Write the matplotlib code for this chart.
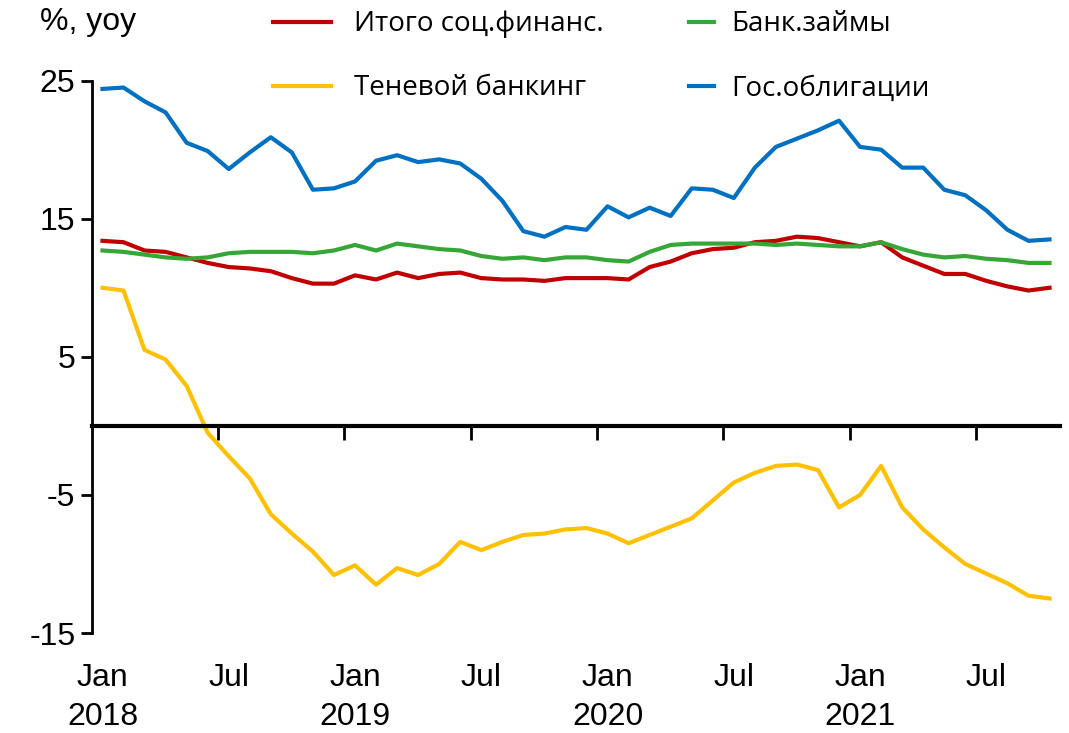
import numpy as np
import matplotlib.pyplot as plt

# Дані: щомісячно, січень 2018 - жовтень 2021, % р/р
months = ['Jan', 'Jul'] * 4
years = ['2018', '2019', '2020', '2021']

total_fin = [13.4, 13.3, 12.7, 12.6, 12.2, 11.8, 11.5, 11.4, 11.2, 10.7, 10.3, 10.3,
             10.9, 10.6, 11.1, 10.7, 11.0, 11.1, 10.7, 10.6, 10.6, 10.5, 10.7, 10.7,
             10.7, 10.6, 11.5, 11.9, 12.5, 12.8, 12.9, 13.3, 13.4, 13.7, 13.6, 13.3,
             13.0, 13.3, 12.2, 11.6, 11.0, 11.0, 10.5, 10.1, 9.8, 10.0]
shadow_bank = [10.0, 9.8, 5.5, 4.8, 2.9, -0.5, -2.2, -3.8, -6.4, -7.8, -9.1, -10.8,
               -10.1, -11.5, -10.3, -10.8, -10.0, -8.4, -9.0, -8.4, -7.9, -7.8, -7.5, -7.4,
               -7.8, -8.5, -7.9, -7.3, -6.7, -5.4, -4.1, -3.4, -2.9, -2.8, -3.2, -5.9,
               -5.0, -2.9, -5.9, -7.5, -8.8, -10.0, -10.7, -11.4, -12.3, -12.5]
bank_loans = [12.7, 12.6, 12.4, 12.2, 12.1, 12.2, 12.5, 12.6, 12.6, 12.6, 12.5, 12.7,
              13.1, 12.7, 13.2, 13.0, 12.8, 12.7, 12.3, 12.1, 12.2, 12.0, 12.2, 12.2,
              12.0, 11.9, 12.6, 13.1, 13.2, 13.2, 13.2, 13.2, 13.1, 13.2, 13.1, 13.0,
              13.0, 13.3, 12.8, 12.4, 12.2, 12.3, 12.1, 12.0, 11.8, 11.8]
gov_bonds = [24.4, 24.5, 23.5, 22.7, 20.5, 19.9, 18.6, 19.8, 20.9, 19.8, 17.1, 17.2,
             17.7, 19.2, 19.6, 19.1, 19.3, 19.0, 17.9, 16.3, 14.1, 13.7, 14.4, 14.2,
             15.9, 15.1, 15.8, 15.2, 17.2, 17.1, 16.5, 18.7, 20.2, 20.8, 21.4, 22.1,
             20.2, 20.0, 18.7, 18.7, 17.1, 16.7, 15.6, 14.2, 13.4, 13.5]

x = np.arange(len(total_fin))

plt.rcParams['font.family'] = ['Liberation Sans Narrow', 'Liberation Sans', 'DejaVu Sans']
plt.rcParams['axes.unicode_minus'] = False

fig = plt.figure(figsize=(10.69, 7.33), dpi=100)
ax = fig.add_axes([0.086, 0.1364, 0.9056, 0.7536])

l_tot, = ax.plot(x, total_fin, color='#C00000', lw=3, label='Итого соц.финанс.')
l_sh, = ax.plot(x, shadow_bank, color='#FFC000', lw=3, label='Теневой банкинг')
l_bank, = ax.plot(x, bank_loans, color='#36A636', lw=3, label='Банк.займы')
l_gov, = ax.plot(x, gov_bonds, color='#0070C0', lw=3, label='Гос.облигации')

ax.set_xlim(-0.5, len(x) - 0.5)
ax.set_ylim(-15, 25)
ax.set_yticks([-15, -5, 5, 15, 25])
ax.tick_params(axis='y', labelsize=23, length=8, width=2, direction='out', pad=4)

# ось X проходить через нуль, поділки між категоріями
ax.spines['bottom'].set_position(('data', 0))
ax.spines['bottom'].set_linewidth(3)
ax.spines['left'].set_linewidth(2)
ax.spines['top'].set_visible(False)
ax.spines['right'].set_visible(False)
ax.set_xticks(np.arange(5.5, len(x) - 1, 6))
ax.set_xticklabels([])
ax.tick_params(axis='x', length=10, width=2, direction='out')

for i, m in enumerate(months):
    ax.text(i * 6, -0.081, m, transform=ax.get_xaxis_transform(),
            ha='center', va='center', fontsize=23)
for i, yr in enumerate(years):
    ax.text(i * 12, -0.152, yr, transform=ax.get_xaxis_transform(),
            ha='center', va='center', fontsize=23)

fig.text(40 / 1069, 1 - 22 / 733, '%, yoy', fontsize=23, ha='left', va='center')

leg_font = {'family': ['Open Sans', 'DejaVu Sans'], 'size': 20}
leg1 = ax.legend(handles=[l_tot, l_sh], loc='upper left', bbox_to_anchor=(248 / 1069, 1.02),
                 bbox_transform=fig.transFigure, frameon=False, prop=leg_font,
                 handlelength=2.1, handletextpad=0.8, labelspacing=1.3)
ax.add_artist(leg1)
ax.legend(handles=[l_bank, l_gov], loc='upper left', bbox_to_anchor=(664 / 1069, 1.02),
          bbox_transform=fig.transFigure, frameon=False, prop=leg_font,
          handlelength=0.9, handletextpad=0.62, labelspacing=1.3)

fig.savefig('out.png', dpi=100)
